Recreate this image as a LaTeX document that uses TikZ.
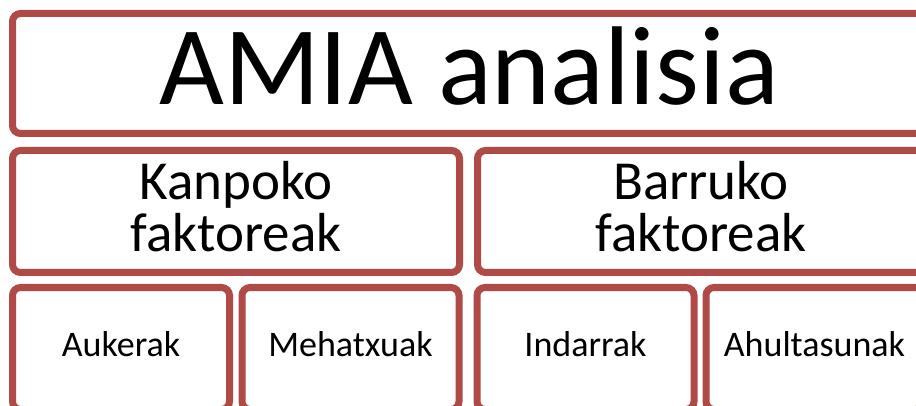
\documentclass[tikz,border=0pt]{standalone}
\usepackage{fontspec}
\setmainfont{Carlito}
\usepackage{tikz}
\usetikzlibrary{shadows}
\definecolor{boxred}{RGB}{175,74,71}

\begin{document}
\begin{tikzpicture}[x=1pt, y=-1pt,
    box/.style={draw=boxred, line width=7pt, rounded corners=8pt, fill=white,
      drop shadow={opacity=0.4, shadow xshift=0pt, shadow yshift=-2.5pt},
      inner sep=0pt},
    bigbox/.style={box, minimum width=913pt, minimum height=120pt},
    midbox/.style={box, minimum width=447pt, minimum height=122pt},
    smallbox/.style={box, minimum width=217pt, minimum height=122pt},
    lbl/.style={inner sep=0pt, align=center, text=black},
    biglbl/.style={lbl, font=\fontsize{112}{112}\selectfont},
    midlbl/.style={lbl, font=\fontsize{55}{52}\selectfont},
    smalllbl/.style={lbl, font=\fontsize{36}{36}\selectfont}]
  \fill[white] (0,0) rectangle (916,406);
  \useasboundingbox (0,0) rectangle (916,406);
  \clip (0,0) rectangle (916,406);

  % Title
  \node[bigbox] (title) at (469,73.5) {};
  \node[biglbl] (titlelbl) at ([yshift=7pt]title.center) {AMIA analisia};

  % Factors
  \node[midbox] (kanpo) at (236,211.5) {};
  \node[midbox] (barru) at (701,211.5) {};
  \node[midlbl] (kanpolbl) at ([yshift=5pt]kanpo.center) {Kanpoko\\faktoreak};
  \node[midlbl] (barrulbl) at ([yshift=5pt]barru.center) {Barruko\\faktoreak};

  % Items
  \node[smallbox] (aukerak) at (121,348.5) {};
  \node[smallbox] (mehatxuak) at (350.5,348.5) {};
  \node[smallbox] (indarrak) at (585.5,348.5) {};
  \node[smallbox] (ahultasunak) at (814.5,348.5) {};
  \node[smalllbl] (aukeraklbl) at ([yshift=4pt]aukerak.center) {Aukerak};
  \node[smalllbl] (mehatxuaklbl) at ([yshift=4pt]mehatxuak.center) {Mehatxuak};
  \node[smalllbl] (indarraklbl) at ([yshift=4pt]indarrak.center) {Indarrak};
  \node[smalllbl] (ahultasunaklbl) at ([yshift=4pt]ahultasunak.center) {Ahultasunak};
\end{tikzpicture}
\end{document}
